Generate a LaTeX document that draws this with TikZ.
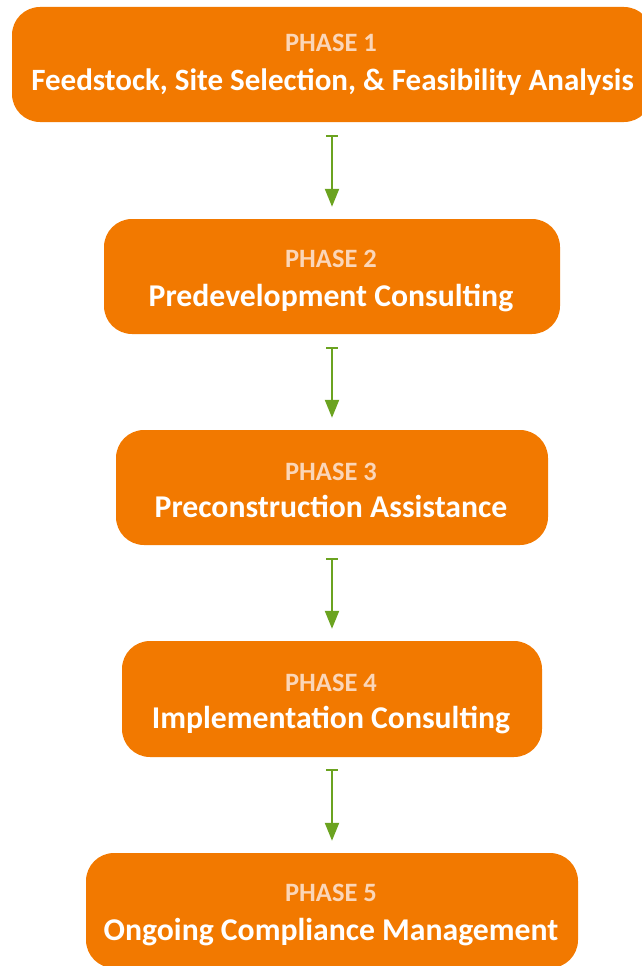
\documentclass[tikz,border=0pt]{standalone}
\usepackage{fontspec}
\setmainfont{Carlito}
\usetikzlibrary{arrows.meta}
\definecolor{boxorange}{RGB}{242,121,0}
\definecolor{phasepeach}{RGB}{251,214,184}
\definecolor{flowgreen}{RGB}{107,163,32}
\tikzset{
  phasebox/.style={fill=boxorange, draw=none, rounded corners=28pt, inner sep=0pt},
  phaselabel/.style={text=phasepeach, font=\bfseries\fontsize{26.5}{26.5}\selectfont, anchor=base, inner sep=0pt},
  phasetitle/.style={text=white, font=\bfseries\fontsize{31.7}{31.7}\selectfont, anchor=base, inner sep=0pt},
  flow/.style={draw=flowgreen, line width=2.2pt, {Bar[width=12pt,line width=2pt]}-{Triangle[length=18pt,width=14pt]}}
}
\begin{document}
\begin{tikzpicture}[x=1pt,y=-1pt]
\useasboundingbox (0,0) rectangle (641,966);
% boxes
\path[phasebox] (12,7) rectangle (652,122);
\node[minimum width=640pt, minimum height=115pt, inner sep=0pt] (b1) at (332,64.5) {};
\path[phasebox] (104,219) rectangle (560,334);
\node[minimum width=456pt, minimum height=115pt, inner sep=0pt] (b2) at (332,276.5) {};
\path[phasebox] (116,430) rectangle (548,545);
\node[minimum width=432pt, minimum height=115pt, inner sep=0pt] (b3) at (332,487.5) {};
\path[phasebox] (122,641) rectangle (542,757);
\node[minimum width=420pt, minimum height=116pt, inner sep=0pt] (b4) at (332,699) {};
\path[phasebox] (86,853) rectangle (578,968);
\node[minimum width=492pt, minimum height=115pt, inner sep=0pt] (b5) at (332,910.5) {};
% texts
\node[phaselabel] (p1) at (331,52) {PHASE 1};
\node[phasetitle, font=\bfseries\fontsize{31}{31}\selectfont] (t1) at (332.5,90) {Feedstock, Site Selection, \& Feasibility Analysis};
\node[phaselabel] (p2) at (331,267) {PHASE 2};
\node[phasetitle] (t2) at (331,306) {Predevelopment Consulting};
\node[phaselabel] (p3) at (331,480) {PHASE 3};
\node[phasetitle] (t3) at (331,517) {Preconstruction Assistance};
\node[phaselabel] (p4) at (331,691) {PHASE 4};
\node[phasetitle] (t4) at (331,728) {Implementation Consulting};
\node[phaselabel] (p5) at (331,901) {PHASE 5};
\node[phasetitle] (t5) at (331,940) {Ongoing Compliance Management};
% connectors
\draw[flow] ([yshift=-13pt]b1.south) -- ([yshift=12pt]b2.north);
\draw[flow] ([yshift=-13pt]b2.south) -- ([yshift=12pt]b3.north);
\draw[flow] ([yshift=-13pt]b3.south) -- ([yshift=12pt]b4.north);
\draw[flow] ([yshift=-12pt]b4.south) -- ([yshift=12pt]b5.north);
\end{tikzpicture}
\end{document}
